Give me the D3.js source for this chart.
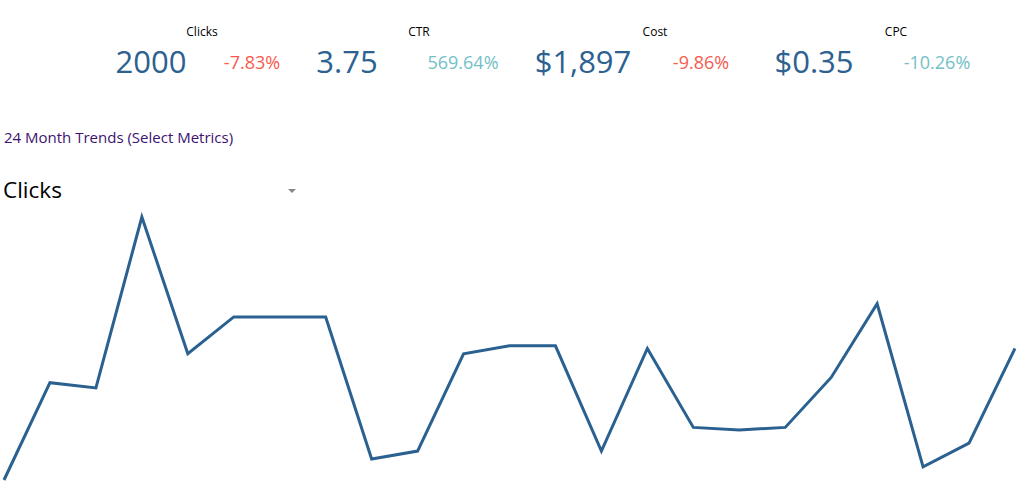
<!DOCTYPE html>
<html>
<head>
<meta charset="utf-8">
<script src="https://cdn.jsdelivr.net/npm/d3@7"></script>
<style>
  html, body { margin: 0; padding: 0; background: #fff; }
  svg { display: block; font-family: "Open Sans", sans-serif; }
</style>
</head>
<body>
<svg id="chart" width="1016" height="503"></svg>
<script>
// KPI data
const kpiLabels = ["Clicks", "CTR", "Cost", "CPC"];
const kpiValues = ["2000", "3.75", "$1,897", "$0.35"];
const kpiChanges = ["-7.83%", "569.64%", "-9.86%", "-10.26%"];
const kpiChangeGood = [false, true, false, true];

// Trend data (monthly clicks)
const months = d3.range(23).map(i => i);
const clicks = [50, 87, 85, 150, 98, 112, 112, 112, 58, 61, 98, 101, 101, 61, 100, 70, 69, 70, 89, 117, 55, 64, 100];

const svg = d3.select("#chart");

// KPI layout
const labelX = [202, 419, 655, 896];
const valueX = [151, 347, 583, 814];
const changeX = [252, 463, 701, 937];

const kpi = svg.append("g");
kpiLabels.forEach((l, i) => {
  kpi.append("text").attr("x", labelX[i]).attr("y", 36)
    .attr("text-anchor", "middle").attr("font-size", 12).attr("fill", "#000").text(l);
  kpi.append("text").attr("x", valueX[i]).attr("y", 73)
    .attr("text-anchor", "middle").attr("font-size", 31).attr("fill", "#2c6190").text(kpiValues[i]);
  kpi.append("text").attr("x", changeX[i]).attr("y", 69)
    .attr("text-anchor", "middle").attr("font-size", 18)
    .attr("fill", kpiChangeGood[i] ? "#72c0c6" : "#f65b4e").text(kpiChanges[i]);
});

svg.append("text").attr("x", 4).attr("y", 143).attr("font-size", 15)
  .attr("fill", "#3d1270").text("24 Month Trends (Select Metrics)");

svg.append("text").attr("x", 3).attr("y", 198).attr("font-size", 22.5)
  .attr("fill", "#000").text("Clicks");
svg.append("path").attr("d", "M288,189 L296,189 L292,193 Z").attr("fill", "#888");

// Line chart
const x = d3.scaleLinear().domain([0, months.length - 1]).range([4, 1015]);
const y = d3.scaleLinear().domain([d3.min(clicks), d3.max(clicks)]).range([480, 217]);

const line = d3.line().x((d, i) => x(months[i])).y(d => y(d));
svg.append("path").datum(clicks)
  .attr("d", line)
  .attr("fill", "none")
  .attr("stroke", "#2a6190")
  .attr("stroke-width", 3)
  .attr("stroke-linejoin", "miter");
</script>
</body>
</html>
